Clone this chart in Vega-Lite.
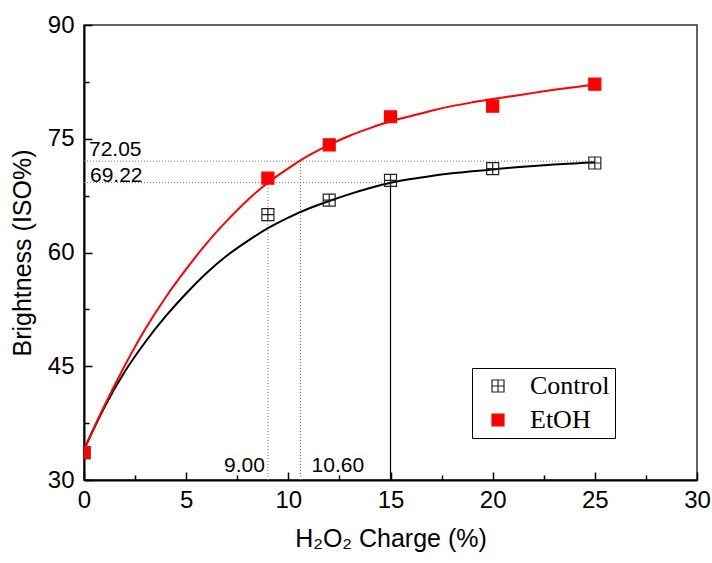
{
  "$schema": "https://vega.github.io/schema/vega-lite/v6.json",
  "width": 613,
  "height": 455,
  "autosize": {"type": "none"},
  "padding": {"left": 84, "top": 25, "right": 15, "bottom": 83},
  "background": "white",
  "config": {
    "view": {"stroke": "#333", "strokeWidth": 1.5},
    "font": "Liberation Sans",
    "axis": {
      "grid": false,
      "domainColor": "black",
      "domainWidth": 2,
      "tickColor": "black",
      "tickWidth": 1.5,
      "labelFont": "Liberation Sans",
      "labelFontSize": 24,
      "labelColor": "black",
      "titleFont": "Liberation Sans",
      "titleFontSize": 25,
      "titleFontWeight": "normal",
      "titleColor": "black"
    }
  },
  "datasets": {
    "curves": [
      {"series": "Control", "x": 0, "y": 34.0}, {"series": "Control", "x": 1, "y": 39.6}, {"series": "Control", "x": 2, "y": 44.3},
      {"series": "Control", "x": 3, "y": 48.2}, {"series": "Control", "x": 4, "y": 51.6}, {"series": "Control", "x": 5, "y": 54.6},
      {"series": "Control", "x": 6, "y": 57.3}, {"series": "Control", "x": 7, "y": 59.6}, {"series": "Control", "x": 8, "y": 61.5},
      {"series": "Control", "x": 9, "y": 63.2}, {"series": "Control", "x": 10, "y": 64.6}, {"series": "Control", "x": 11, "y": 65.8},
      {"series": "Control", "x": 12, "y": 66.8}, {"series": "Control", "x": 13, "y": 67.7}, {"series": "Control", "x": 14, "y": 68.5},
      {"series": "Control", "x": 15, "y": 69.2}, {"series": "Control", "x": 16, "y": 69.7}, {"series": "Control", "x": 17, "y": 70.1},
      {"series": "Control", "x": 18, "y": 70.45}, {"series": "Control", "x": 19, "y": 70.7}, {"series": "Control", "x": 20, "y": 70.95},
      {"series": "Control", "x": 21, "y": 71.2}, {"series": "Control", "x": 22, "y": 71.4}, {"series": "Control", "x": 23, "y": 71.6},
      {"series": "Control", "x": 24, "y": 71.75}, {"series": "Control", "x": 25, "y": 71.9},
      {"series": "EtOH", "x": 0, "y": 34.0}, {"series": "EtOH", "x": 1, "y": 39.8}, {"series": "EtOH", "x": 2, "y": 45.1},
      {"series": "EtOH", "x": 3, "y": 49.9}, {"series": "EtOH", "x": 4, "y": 54.1}, {"series": "EtOH", "x": 5, "y": 57.8},
      {"series": "EtOH", "x": 6, "y": 61.2}, {"series": "EtOH", "x": 7, "y": 64.2}, {"series": "EtOH", "x": 8, "y": 66.9},
      {"series": "EtOH", "x": 9, "y": 69.2}, {"series": "EtOH", "x": 10, "y": 71.1}, {"series": "EtOH", "x": 11, "y": 72.8},
      {"series": "EtOH", "x": 12, "y": 74.2}, {"series": "EtOH", "x": 13, "y": 75.4}, {"series": "EtOH", "x": 14, "y": 76.4},
      {"series": "EtOH", "x": 15, "y": 77.3}, {"series": "EtOH", "x": 16, "y": 78.0}, {"series": "EtOH", "x": 17, "y": 78.7},
      {"series": "EtOH", "x": 18, "y": 79.3}, {"series": "EtOH", "x": 19, "y": 79.8}, {"series": "EtOH", "x": 20, "y": 80.25},
      {"series": "EtOH", "x": 21, "y": 80.65}, {"series": "EtOH", "x": 22, "y": 81.05}, {"series": "EtOH", "x": 23, "y": 81.45},
      {"series": "EtOH", "x": 24, "y": 81.8}, {"series": "EtOH", "x": 25, "y": 82.15}
    ],
    "points": [
      {"series": "Control", "x": 0, "y": 33.6}, {"series": "Control", "x": 9, "y": 65.0}, {"series": "Control", "x": 12, "y": 66.9},
      {"series": "Control", "x": 15, "y": 69.5}, {"series": "Control", "x": 20, "y": 71.05}, {"series": "Control", "x": 25, "y": 71.8},
      {"series": "EtOH", "x": 0, "y": 33.6}, {"series": "EtOH", "x": 9, "y": 69.8}, {"series": "EtOH", "x": 12, "y": 74.2},
      {"series": "EtOH", "x": 15, "y": 77.9}, {"series": "EtOH", "x": 20, "y": 79.3}, {"series": "EtOH", "x": 25, "y": 82.2}
    ],
    "dotted": [
      {"x": 0, "y": 72.05, "x2": 25, "y2": 72.05},
      {"x": 0, "y": 69.22, "x2": 15, "y2": 69.22},
      {"x": 9, "y": 30, "x2": 9, "y2": 69.22},
      {"x": 10.6, "y": 30, "x2": 10.6, "y2": 72.05}
    ],
    "solid": [
      {"x": 15, "y": 30, "x2": 15, "y2": 69.22}
    ]
  },
  "layer": [
    {
      "data": {"name": "dotted"},
      "mark": {"type": "rule", "color": "#777", "strokeWidth": 1, "strokeDash": [1, 2]},
      "encoding": {
        "x": {"field": "x", "type": "quantitative", "scale": {"domain": [0, 30], "nice": false},
          "axis": {
            "title": "H₂O₂ Charge (%)",
            "values": [0, 2.5, 5, 7.5, 10, 12.5, 15, 17.5, 20, 22.5, 25, 27.5, 30],
            "labelExpr": "datum.value % 5 === 0 ? datum.label : ''",
            "tickSize": {"condition": {"test": "datum.value % 5 === 0", "value": -8}, "value": -5},
            "labelPadding": 16,
            "labelFlush": false,
            "titlePadding": 14
          }},
        "y": {"field": "y", "type": "quantitative", "scale": {"domain": [30, 90], "nice": false},
          "axis": {
            "title": "Brightness (ISO%)",
            "values": [30, 37.5, 45, 52.5, 60, 67.5, 75, 82.5, 90],
            "labelExpr": "datum.value % 15 === 0 ? datum.label : ''",
            "tickSize": {"condition": {"test": "datum.value % 15 === 0", "value": -8}, "value": -5},
            "labelPadding": 18,
            "labelFlush": false,
            "titlePadding": 12
          }},
        "x2": {"field": "x2"},
        "y2": {"field": "y2"}
      }
    },
    {
      "data": {"name": "solid"},
      "mark": {"type": "rule", "color": "black", "strokeWidth": 1.2},
      "encoding": {
        "x": {"field": "x", "type": "quantitative"},
        "y": {"field": "y", "type": "quantitative"},
        "x2": {"field": "x2"},
        "y2": {"field": "y2"}
      }
    },
    {
      "data": {"name": "curves"},
      "transform": [{"filter": "datum.series === 'Control'"}],
      "mark": {"type": "line", "strokeWidth": 2, "interpolate": "monotone", "color": "black"},
      "encoding": {
        "x": {"field": "x", "type": "quantitative"},
        "y": {"field": "y", "type": "quantitative"}
      }
    },
    {
      "data": {"name": "curves"},
      "transform": [{"filter": "datum.series === 'EtOH'"}],
      "mark": {"type": "line", "strokeWidth": 2, "interpolate": "monotone", "color": "red"},
      "encoding": {
        "x": {"field": "x", "type": "quantitative"},
        "y": {"field": "y", "type": "quantitative"}
      }
    },
    {
      "data": {"name": "points"},
      "mark": {"type": "point", "filled": true, "size": 144, "strokeWidth": 1.2, "opacity": 1, "clip": true},
      "encoding": {
        "x": {"field": "x", "type": "quantitative"},
        "y": {"field": "y", "type": "quantitative"},
        "fill": {"field": "series", "type": "nominal", "scale": {"domain": ["Control", "EtOH"], "range": ["transparent", "red"]}},
        "stroke": {"field": "series", "type": "nominal", "scale": {"domain": ["Control", "EtOH"], "range": ["#222", "red"]}},
        "shape": {"field": "series", "type": "nominal",
          "scale": {"domain": ["Control", "EtOH"], "range": ["M-1,-1H1V1H-1Z M0,-1V1 M-1,0H1", "square"]},
          "legend": {
            "title": null,
            "orient": "none",
            "legendX": 388,
            "legendY": 343,
            "direction": "vertical",
            "strokeColor": "black",
            "fillColor": "white",
            "padding": 5,
            "symbolOffset": 8,
            "labelOffset": 19,
            "labelFont": "Liberation Serif",
            "labelFontSize": 26,
            "labelColor": "black",
            "rowPadding": 8,
            "symbolSize": 144,
            "symbolStrokeWidth": 1.2
          }}
      }
    },
    {
      "data": {"values": [{"x": 0, "y": 72.05, "label": "72.05"}]},
      "mark": {"type": "text", "align": "left", "baseline": "alphabetic", "dx": 5, "dy": -5, "fontSize": 21, "font": "Liberation Sans", "color": "black"},
      "encoding": {
        "x": {"field": "x", "type": "quantitative"},
        "y": {"field": "y", "type": "quantitative"},
        "text": {"field": "label"}
      }
    },
    {
      "data": {"values": [{"x": 0, "y": 69.22, "label": "69.22"}]},
      "mark": {"type": "text", "align": "left", "baseline": "alphabetic", "dx": 6, "dy": -1, "fontSize": 21, "font": "Liberation Sans", "color": "black"},
      "encoding": {
        "x": {"field": "x", "type": "quantitative"},
        "y": {"field": "y", "type": "quantitative"},
        "text": {"field": "label"}
      }
    },
    {
      "data": {"values": [{"x": 9, "y": 30, "label": "9.00"}]},
      "mark": {"type": "text", "align": "right", "baseline": "alphabetic", "dx": -3, "dy": -8, "fontSize": 21, "font": "Liberation Sans", "color": "black"},
      "encoding": {
        "x": {"field": "x", "type": "quantitative"},
        "y": {"field": "y", "type": "quantitative"},
        "text": {"field": "label"}
      }
    },
    {
      "data": {"values": [{"x": 10.6, "y": 30, "label": "10.60"}]},
      "mark": {"type": "text", "align": "left", "baseline": "alphabetic", "dx": 11, "dy": -8, "fontSize": 21, "font": "Liberation Sans", "color": "black"},
      "encoding": {
        "x": {"field": "x", "type": "quantitative"},
        "y": {"field": "y", "type": "quantitative"},
        "text": {"field": "label"}
      }
    }
  ]
}
